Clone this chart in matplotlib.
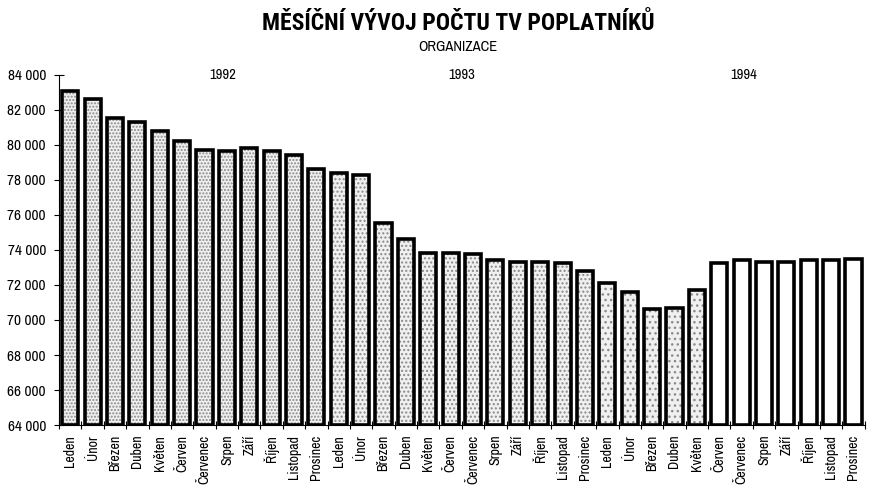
import numpy as np
import matplotlib
matplotlib.use("Agg")
import matplotlib.pyplot as plt

plt.rcParams['font.family'] = ['Archivo Narrow', 'Liberation Sans', 'DejaVu Sans']

months = ["Leden", "Únor", "Březen", "Duben", "Květen", "Červen", "Červenec",
          "Srpen", "Září", "Říjen", "Listopad", "Prosinec"]
years = ["1992", "1993", "1994"]
values_1992 = [83100, 82600, 81550, 81300, 80800, 80200, 79700, 79650, 79800, 79650, 79400, 78600]
values_1993 = [78400, 78250, 75550, 74650, 73800, 73850, 73750, 73450, 73300, 73300, 73250, 72800]
values_1994 = [72100, 71600, 70600, 70700, 71700, 73250, 73400, 73300, 73300, 73400, 73400, 73500]

labels = months * 3
values = values_1992 + values_1993 + values_1994
n = len(values)
x = np.arange(n)

fig = plt.figure(figsize=(8.69, 4.92), dpi=100)
ax = fig.add_axes([0.068, 0.136, 0.927, 0.712])

base = 64000
heights = [v - base for v in values]
# stipple fill (fades in later bars like in the scan)
hatches = ['.....'] * 12 + ['....'] * 12 + ['...'] * 5 + [''] * 7
for xi, h, ht in zip(x, heights, hatches):
    ax.bar(xi, h, bottom=base, width=0.72, color='#f0f0f0' if ht else 'white',
           hatch=ht, edgecolor='#8a8a8a', linewidth=0, zorder=2)
ax.bar(x, heights, bottom=base, width=0.72, fill=False, edgecolor='black',
       linewidth=2.6, zorder=3)

ax.set_xlim(-0.5, n - 0.5)
ax.set_ylim(base, 84000)
ax.set_yticks(np.arange(64000, 84001, 2000))
ax.set_yticklabels([f"{v:,}".replace(",", " ") for v in np.arange(64000, 84001, 2000)], fontsize=11)
ax.set_xticks(x)
ax.set_xticklabels(labels, rotation=90, fontsize=10)
ax.tick_params(axis='x', which='major', length=0, pad=7)
ax.set_xticks(np.arange(-0.5, n, 1.0), minor=True)
ax.tick_params(axis='x', which='minor', length=6, direction='inout', width=0.8)
ax.tick_params(axis='y', length=7, direction='inout', width=0.8, pad=6)

for s in ['top', 'right']:
    ax.spines[s].set_visible(False)
for s in ['left', 'bottom']:
    ax.spines[s].set_linewidth(0.8)

year_pos = [6.8, 17.5, 30.1]
for yp, yl in zip(year_pos, years):
    ax.text(yp, 84000, yl, ha='center', va='center', fontsize=10.5)

fig.text(0.527, 0.953, "MĚSÍČNÍ VÝVOJ POČTU TV POPLATNÍKŮ", ha='center', va='center',
         fontsize=17, fontweight='bold', family=['Roboto Condensed', 'Liberation Sans', 'DejaVu Sans'])
fig.text(0.527, 0.905, "ORGANIZACE", ha='center', va='center', fontsize=10.5)

fig.savefig("out.png", dpi=100)
